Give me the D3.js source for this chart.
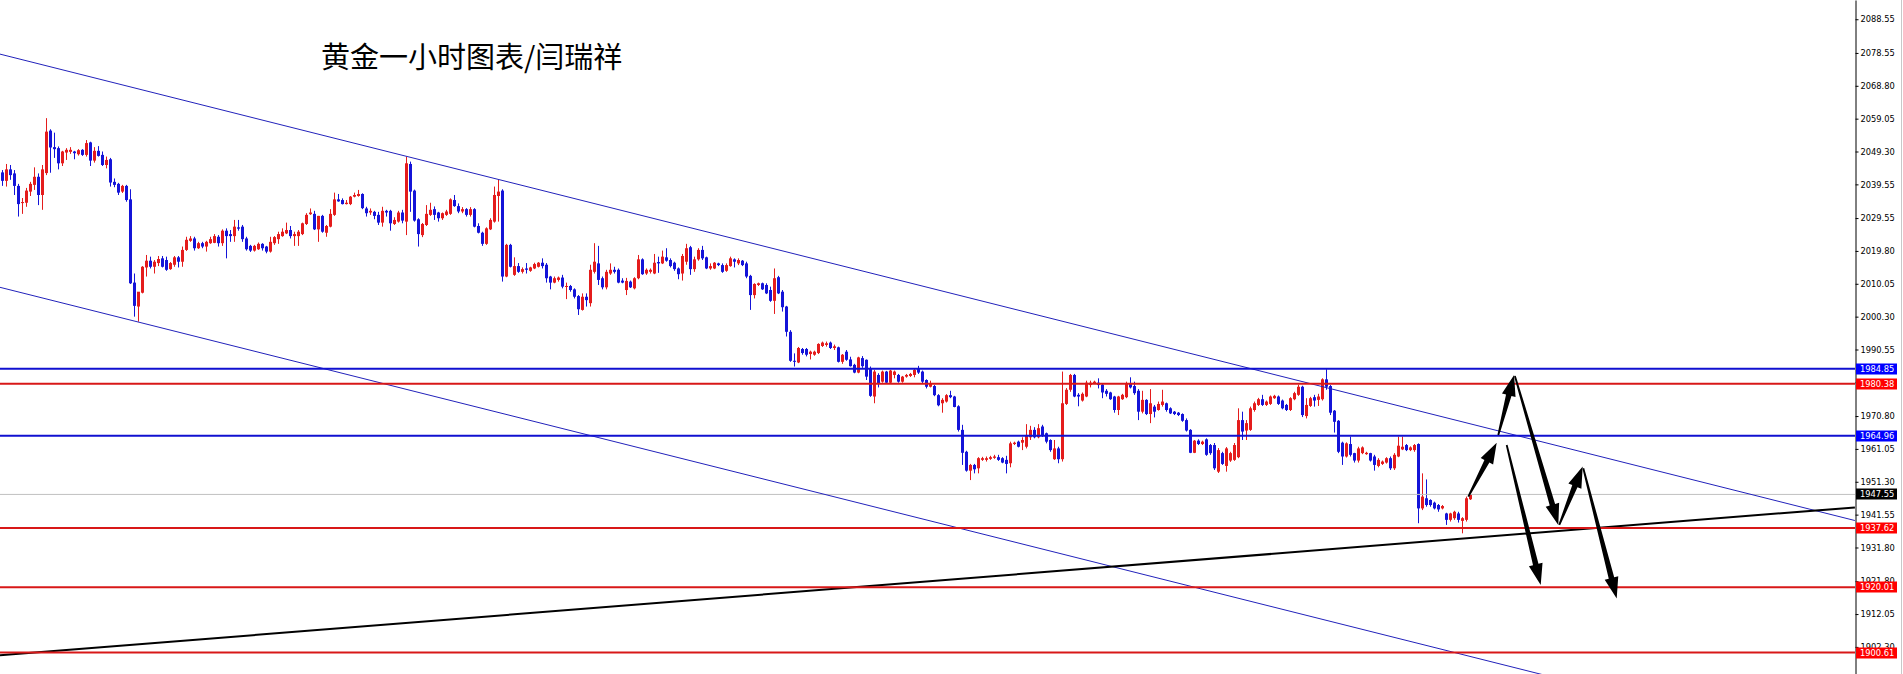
<!DOCTYPE html>
<html><head><meta charset="utf-8">
<script src="https://cdn.jsdelivr.net/npm/d3@7"></script>
<style>html,body{margin:0;padding:0;background:#fff;overflow:hidden}</style>
</head><body><svg id="c" width="1903" height="674"></svg>
<script>
// ---------- DATA (hourly gold candles) ----------
const opens = [
2043.1,2040.6,2044.0,2042.8,2039.1,2034.0,2034.1,2037.4,2039.4,2041.8,
2036.4,2042.9,2055.5,2050.6,2050.3,2045.8,2049.0,2049.2,2049.3,2048.5,
2049.8,2048.3,2052.0,2046.6,2049.5,2048.3,2045.3,2047.0,2040.3,2039.7,
2037.4,2039.1,2035.1,2010.4,2003.3,2007.4,2014.9,2016.9,2015.1,2016.2,
2017.6,2017.1,2014.4,2015.7,2017.9,2016.6,2020.1,2022.8,2023.5,2020.6,
2022.1,2021.1,2022.1,2022.2,2024.0,2022.1,2025.8,2024.8,2024.2,2026.8,
2027.0,2023.5,2021.3,2019.9,2020.3,2021.9,2021.1,2019.6,2022.1,2023.3,
2024.2,2025.0,2026.0,2024.2,2024.2,2024.8,2027.8,2030.7,2030.8,2026.2,
2030.2,2025.2,2027.0,2030.5,2035.1,2034.9,2033.7,2033.7,2035.9,2036.1,
2036.7,2032.4,2031.2,2031.4,2030.5,2028.2,2031.7,2031.7,2027.8,2028.5,
2031.2,2028.5,2045.6,2037.7,2029.2,2024.5,2027.5,2030.5,2032.2,2031.2,
2029.5,2030.5,2030.8,2034.9,2033.1,2031.5,2032.2,2030.5,2032.2,2027.2,
2025.2,2021.9,2026.2,2028.5,2036.1,2037.7,2012.2,2021.6,2012.7,2015.3,
2013.6,2014.6,2013.9,2014.6,2015.1,2016.3,2015.7,2012.2,2010.4,2011.2,
2011.9,2009.2,2009.4,2008.4,2006.4,2002.3,2006.2,2004.3,2013.6,2016.1,
2011.7,2009.0,2013.1,2014.2,2014.2,2011.0,2008.2,2010.7,2008.7,2011.7,
2017.3,2013.1,2013.6,2013.1,2016.5,2016.1,2017.9,2017.1,2016.3,2014.6,
2013.1,2016.6,2020.9,2014.4,2017.3,2020.1,2017.9,2014.6,2014.6,2016.1,
2015.6,2013.9,2015.3,2017.3,2016.1,2016.9,2016.1,2012.4,2006.7,2009.7,
2010.2,2009.7,2008.2,2005.0,2012.0,2007.7,2003.3,1995.8,1987.2,1986.7,
1990.7,1990.7,1989.2,1989.0,1989.5,1991.6,1991.9,1992.6,1991.0,1991.2,
1986.9,1989.9,1987.6,1986.0,1983.7,1988.0,1987.5,1985.0,1976.6,1983.0,
1981.0,1984.0,1980.7,1983.0,1983.0,1981.0,1982.5,1982.7,1983.0,1985.0,
1984.0,1981.5,1979.5,1979.7,1977.0,1974.6,1975.1,1977.0,1976.6,1973.7,
1966.7,1960.2,1954.6,1956.3,1955.3,1957.8,1957.8,1958.1,1958.4,1958.6,
1958.3,1957.8,1956.8,1962.5,1963.2,1962.9,1961.7,1964.5,1966.7,1964.5,
1967.7,1965.7,1963.7,1958.0,1961.2,1958.0,1974.4,1978.6,1983.0,1977.1,
1975.4,1976.6,1980.0,1980.5,1980.7,1980.1,1978.3,1977.8,1976.6,1972.6,
1975.8,1976.4,1980.5,1979.7,1978.3,1972.1,1975.6,1971.4,1973.6,1972.6,
1974.1,1974.6,1973.1,1972.1,1971.8,1971.4,1969.6,1966.7,1959.9,1963.5,
1962.5,1963.9,1962.2,1962.2,1954.3,1959.8,1956.0,1957.6,1957.8,1958.6,
1969.6,1966.5,1966.7,1972.6,1974.1,1975.8,1974.1,1974.4,1976.1,1976.6,
1975.4,1974.1,1972.6,1975.8,1977.1,1979.5,1970.8,1973.8,1976.4,1975.6,
1975.8,1981.7,1979.7,1972.4,1969.4,1962.9,1958.8,1962.5,1959.8,1957.6,
1959.8,1959.5,1959.8,1958.8,1956.0,1956.6,1957.0,1958.3,1955.3,1958.8,
1960.9,1962.2,1960.7,1960.7,1962.5,1943.4,1946.4,1945.9,1945.1,1944.4,
1943.4,1941.9,1940.0,1940.5,1941.9,1939.7,1940.0,1946.1];
const highs = [
2043.8,2045.6,2045.3,2043.8,2039.7,2035.5,2038.5,2040.3,2044.6,2042.8,
2045.3,2059.2,2055.9,2054.9,2050.8,2049.5,2050.3,2050.6,2049.5,2050.0,
2050.0,2052.7,2052.2,2050.6,2050.9,2049.3,2047.8,2047.4,2041.3,2040.0,
2039.4,2039.4,2038.1,2013.1,2003.8,2015.3,2018.6,2018.1,2017.1,2018.3,
2018.3,2018.1,2016.5,2018.3,2018.3,2021.1,2024.0,2024.2,2024.0,2022.5,
2022.5,2022.8,2024.0,2024.8,2024.5,2026.2,2026.5,2026.0,2029.0,2029.0,
2027.5,2024.0,2021.6,2021.6,2022.3,2022.1,2021.3,2024.0,2024.2,2025.5,
2026.5,2028.2,2027.2,2025.5,2026.0,2028.2,2031.0,2032.4,2031.7,2030.2,
2030.5,2027.5,2032.2,2037.1,2036.7,2035.4,2034.9,2036.1,2037.1,2037.9,
2036.9,2032.9,2032.4,2031.7,2031.4,2032.9,2032.0,2032.0,2029.8,2031.7,
2032.0,2047.8,2046.3,2038.0,2029.5,2028.1,2033.4,2034.1,2033.0,2031.4,
2031.2,2032.0,2035.4,2036.4,2033.9,2032.8,2032.5,2032.8,2032.5,2028.0,
2025.5,2026.8,2029.5,2038.9,2040.9,2038.1,2021.9,2021.9,2017.9,2016.2,
2014.9,2016.2,2015.1,2016.3,2016.5,2017.6,2016.2,2012.4,2012.2,2012.2,
2012.7,2010.4,2009.7,2008.7,2006.7,2007.2,2007.2,2015.7,2022.1,2021.3,
2012.2,2014.2,2016.1,2015.1,2014.6,2011.7,2011.8,2011.0,2012.0,2018.6,
2017.6,2014.6,2014.6,2018.9,2018.1,2019.9,2020.6,2017.6,2016.6,2014.9,
2018.9,2021.9,2021.3,2018.1,2020.6,2021.3,2018.1,2016.1,2016.5,2016.3,
2016.1,2016.1,2018.1,2017.6,2017.6,2017.1,2016.6,2012.7,2010.2,2010.4,
2010.4,2010.2,2009.2,2014.6,2012.4,2008.2,2003.5,1996.3,1989.4,1991.3,
1991.0,1991.0,1990.2,1990.2,1992.4,1992.9,1992.9,1992.9,1992.0,1991.4,
1989.2,1990.4,1988.4,1986.3,1988.4,1988.6,1987.6,1985.5,1984.5,1983.5,
1984.3,1984.2,1984.5,1984.3,1983.3,1982.7,1983.3,1983.6,1985.0,1985.7,
1984.3,1981.7,1981.3,1980.0,1977.3,1976.1,1977.3,1978.3,1976.8,1974.0,
1968.2,1960.5,1956.6,1956.6,1958.6,1958.7,1958.8,1959.0,1959.3,1959.3,
1958.6,1959.0,1963.2,1963.2,1963.5,1964.5,1968.4,1967.9,1967.5,1968.4,
1968.2,1965.9,1963.9,1963.7,1961.7,1984.0,1979.1,1983.3,1983.3,1977.6,
1977.8,1981.3,1981.3,1981.3,1982.0,1980.5,1978.8,1978.0,1976.8,1976.8,
1977.4,1981.0,1982.3,1981.0,1978.8,1978.3,1975.8,1978.8,1974.1,1975.1,
1978.6,1974.8,1973.4,1972.3,1972.0,1971.6,1970.1,1966.9,1963.7,1963.9,
1963.5,1964.2,1962.5,1962.8,1961.3,1960.2,1961.6,1960.2,1962.8,1973.1,
1972.1,1969.6,1973.6,1975.1,1976.2,1977.1,1975.4,1976.9,1977.1,1976.9,
1975.7,1974.4,1976.4,1978.0,1980.1,1979.8,1976.1,1976.5,1977.1,1977.4,
1982.0,1984.7,1980.0,1972.6,1969.6,1963.2,1963.0,1964.7,1959.9,1961.7,
1961.8,1960.2,1959.9,1959.3,1958.3,1957.6,1958.6,1958.8,1959.8,1964.7,
1964.7,1962.5,1961.8,1962.5,1962.7,1953.8,1952.0,1946.1,1945.4,1944.7,
1944.4,1942.1,1942.1,1942.7,1942.4,1940.8,1946.9,1947.8];
const lows = [
2039.1,2038.9,2040.9,2036.4,2030.0,2030.8,2032.9,2036.1,2037.9,2033.4,
2032.0,2042.3,2043.0,2047.4,2044.0,2045.0,2046.8,2048.6,2047.0,2048.1,
2048.0,2047.8,2045.0,2046.0,2047.8,2045.0,2044.3,2038.9,2038.7,2036.4,
2037.0,2034.4,2010.0,2000.3,1998.8,2007.2,2012.2,2014.6,2013.1,2015.3,
2014.9,2013.9,2014.2,2015.1,2014.9,2015.1,2019.8,2022.5,2019.9,2020.4,
2020.6,2019.6,2021.9,2022.1,2021.1,2021.3,2017.6,2022.5,2022.5,2025.8,
2022.5,2019.9,2019.5,2019.6,2020.1,2019.9,2019.1,2019.3,2021.6,2021.9,
2024.0,2024.8,2023.5,2021.3,2021.3,2024.5,2027.5,2030.5,2026.0,2022.5,
2025.2,2024.0,2026.8,2030.2,2034.4,2033.6,2033.6,2033.4,2035.7,2035.9,
2032.2,2030.0,2030.5,2029.2,2027.5,2027.0,2030.0,2025.8,2027.5,2028.2,
2028.0,2024.5,2031.4,2028.5,2021.1,2023.9,2027.2,2030.2,2029.0,2028.5,
2029.0,2030.2,2030.5,2032.9,2031.0,2031.0,2030.0,2030.0,2026.8,2025.0,
2021.3,2021.6,2026.0,2028.2,2028.5,2010.7,2012.0,2014.9,2012.4,2013.3,
2013.1,2013.1,2013.6,2014.4,2014.9,2014.6,2010.4,2008.4,2010.2,2010.7,
2008.7,2005.5,2007.7,2005.7,2000.8,2002.1,2003.3,2003.3,2013.1,2009.7,
2008.4,2008.4,2012.7,2013.1,2010.2,2010.2,2006.7,2008.8,2008.4,2011.4,
2012.7,2012.7,2013.1,2012.9,2013.3,2015.9,2016.6,2014.9,2013.9,2011.4,
2011.0,2015.7,2012.7,2013.6,2016.9,2017.1,2014.4,2014.2,2014.4,2015.3,
2013.3,2013.6,2015.1,2014.9,2015.6,2015.3,2011.7,2002.3,2005.7,2009.4,
2008.2,2007.0,2004.7,2001.1,2007.0,2001.8,1994.4,1986.9,1985.5,1986.5,
1989.0,1988.5,1987.6,1988.7,1989.2,1991.3,1991.4,1990.7,1990.4,1986.7,
1986.3,1987.2,1985.5,1983.5,1983.5,1985.1,1981.5,1976.5,1974.6,1979.3,
1980.7,1980.5,1980.5,1982.0,1980.7,1980.7,1982.2,1982.4,1982.3,1983.3,
1980.5,1979.0,1979.3,1976.7,1973.7,1971.8,1974.8,1976.1,1973.4,1966.2,
1956.3,1954.3,1951.8,1953.8,1953.8,1957.5,1957.3,1957.8,1958.1,1957.5,
1956.8,1953.8,1955.6,1962.2,1961.5,1960.7,1961.2,1963.7,1964.2,1964.2,
1964.6,1962.7,1960.2,1957.8,1956.8,1957.3,1974.1,1978.0,1976.4,1973.7,
1975.1,1976.4,1979.3,1980.3,1979.0,1976.1,1976.6,1975.6,1971.8,1971.1,
1975.6,1976.1,1979.0,1977.1,1969.6,1971.6,1971.1,1968.7,1970.4,1972.4,
1973.6,1972.1,1971.4,1971.1,1970.8,1969.1,1966.2,1959.8,1959.8,1962.2,
1962.2,1959.0,1959.3,1954.8,1953.9,1956.3,1954.3,1957.2,1957.5,1958.3,
1963.7,1963.7,1966.4,1972.1,1973.8,1973.8,1973.8,1974.1,1975.9,1974.1,
1972.8,1972.3,1972.3,1975.5,1976.8,1970.5,1970.1,1973.5,1973.6,1973.8,
1975.4,1978.6,1971.1,1965.9,1959.8,1956.3,1958.5,1958.8,1957.0,1957.0,
1959.5,1959.3,1957.3,1954.6,1955.6,1956.3,1956.7,1954.8,1954.8,1958.6,
1960.7,1960.4,1960.4,1960.2,1939.0,1942.9,1943.9,1943.9,1943.1,1942.4,
1943.1,1938.5,1939.5,1940.0,1939.2,1936.0,1939.5,1945.9];
const closes = [
2040.6,2044.0,2042.3,2039.1,2033.7,2034.3,2037.7,2039.7,2041.8,2036.4,
2044.0,2055.2,2050.5,2050.0,2045.8,2049.3,2049.8,2049.8,2048.8,2049.7,
2048.3,2051.8,2046.6,2049.5,2048.0,2045.3,2046.8,2040.1,2039.4,2037.1,
2039.1,2034.9,2010.2,2003.5,2007.7,2015.1,2016.9,2015.1,2016.6,2017.4,
2015.1,2014.2,2016.2,2017.9,2016.6,2020.1,2023.1,2023.5,2020.6,2022.1,
2021.1,2022.5,2023.3,2024.2,2022.1,2025.8,2024.2,2024.2,2027.0,2026.4,
2023.3,2020.3,2019.9,2021.3,2021.9,2020.6,2019.6,2022.5,2023.9,2024.8,
2025.5,2026.0,2024.2,2024.8,2025.5,2028.0,2030.5,2031.2,2026.2,2030.2,
2025.5,2027.2,2030.8,2035.1,2034.5,2033.7,2034.1,2035.9,2036.4,2036.7,
2032.5,2031.0,2031.7,2030.2,2028.2,2031.7,2031.2,2028.0,2029.0,2031.2,
2028.8,2045.8,2037.4,2028.8,2024.8,2027.8,2030.8,2032.0,2030.5,2029.5,
2031.0,2031.5,2035.1,2033.1,2031.5,2032.2,2030.5,2032.2,2027.0,2025.2,
2021.9,2026.5,2029.0,2036.4,2037.4,2012.2,2021.6,2015.1,2015.3,2013.6,
2014.4,2014.2,2014.9,2015.9,2016.3,2015.3,2011.7,2010.4,2011.7,2011.9,
2009.2,2009.4,2008.2,2006.2,2002.5,2006.2,2005.2,2014.2,2016.6,2011.2,
2009.0,2013.6,2014.2,2013.6,2010.4,2010.4,2010.9,2009.0,2011.7,2017.3,
2012.9,2014.2,2014.2,2016.3,2016.1,2018.1,2016.9,2015.3,2014.4,2012.9,
2018.3,2020.6,2014.4,2017.3,2020.1,2017.6,2014.6,2015.3,2016.3,2015.6,
2013.6,2015.6,2017.6,2016.6,2017.1,2015.6,2012.2,2006.7,2010.0,2010.2,
2008.4,2007.2,2005.0,2011.7,2007.2,2003.1,1995.8,1987.2,1986.9,1991.0,
1989.5,1989.0,1989.9,1989.9,1992.2,1992.6,1992.4,1991.0,1991.5,1986.9,
1989.0,1987.5,1985.6,1983.7,1988.2,1985.6,1982.5,1976.8,1984.0,1980.3,
1984.0,1980.7,1984.3,1984.0,1981.0,1982.5,1983.0,1983.3,1984.5,1983.7,
1981.0,1979.5,1980.5,1977.0,1974.0,1975.6,1977.0,1976.4,1973.5,1966.7,
1959.9,1954.6,1956.3,1955.0,1958.3,1958.3,1958.3,1958.6,1958.8,1957.8,
1957.0,1956.6,1962.7,1962.9,1961.7,1963.7,1965.2,1966.7,1964.5,1967.2,
1964.9,1963.2,1960.7,1961.2,1958.0,1974.6,1978.6,1983.0,1976.6,1976.6,
1977.4,1980.7,1980.7,1981.0,1980.0,1977.8,1977.4,1975.8,1972.6,1976.6,
1977.1,1980.5,1979.3,1977.6,1972.1,1975.6,1971.4,1974.6,1972.1,1974.4,
1975.1,1972.6,1971.6,1971.4,1971.1,1969.4,1966.5,1959.9,1963.5,1962.5,
1963.2,1959.3,1959.8,1955.3,1960.7,1956.6,1961.2,1959.8,1962.2,1969.6,
1966.2,1968.7,1973.1,1974.6,1975.8,1974.1,1975.1,1976.6,1976.8,1974.4,
1973.1,1972.6,1976.1,1977.6,1979.5,1971.1,1974.1,1976.1,1975.4,1976.6,
1981.7,1979.5,1971.8,1969.1,1960.2,1958.8,1962.7,1959.3,1957.6,1961.2,
1961.5,1959.9,1957.6,1956.3,1957.8,1957.3,1958.3,1955.3,1959.3,1962.0,
1961.7,1960.7,1961.5,1962.2,1943.4,1946.9,1944.4,1944.4,1943.4,1943.1,
1944.1,1940.0,1941.9,1942.4,1940.0,1940.5,1946.4,1947.55];

const axisTicks = [2088.55,2078.55,2068.80,2059.05,2049.30,2039.55,2029.55,2019.80,2010.05,2000.30,
                   1990.55,1980.80,1970.80,1961.05,1951.30,1941.55,1931.80,1921.80,1912.05,1902.30];
const bluePriceLevels = [1984.85, 1964.96];
const redPriceLevels = [1980.38, 1937.62, 1920.01, 1900.61];
const currentPrice = 1947.55;
// trend lines: [barIndex, price] endpoints
const channelUpper = [[-0.625, 2078.2], [463.1, 1939.8]];
const channelLower = [[-0.625, 2009.0], [463.1, 1870.8]];
const supportLine  = [[-0.625, 1899.8], [463.1, 1943.7]];
// projected path arrows: [barIndex, price] from -> to
const arrows = [
  [[366.45, 1946.9], [373.55, 1962.9]],
  [[373.95, 1965.2], [377.9, 1983.0]],
  [[378.1, 1982.7], [388.95, 1938.5]],
  [[389.2, 1938.5], [395.05, 1955.8]],
  [[395.2, 1955.3], [403.55, 1916.7]],
  [[376.05, 1962.2], [384.55, 1920.7]]
];
const titleText = "黄金一小时图表/闫瑞祥";

// ---------- DRAW ----------
const W = 1903, H = 674, plotRight = 1855;
const svg = d3.select("#c");
const x = d3.scaleLinear().domain([-0.625, 463.125]).range([0, plotRight]);
const y = d3.scaleLinear().domain([1894.26, 2094.26]).range([H, 0]);
const UP = "#e41c1c", DOWN = "#1414d8", LBLUE = "#1010d0", LRED = "#d81818";

const candles = opens.map((o, i) => ({i, o, h: highs[i], l: lows[i], c: closes[i]}));
const plot = svg.append("g");
plot.append("rect").attr("width", plotRight).attr("height", H).attr("fill", "#fff");

const cg = plot.append("g");
cg.selectAll("line").data(candles).join("line")
  .attr("x1", d => x(d.i)).attr("x2", d => x(d.i))
  .attr("y1", d => y(d.h)).attr("y2", d => y(d.l))
  .attr("stroke", d => d.c >= d.o ? UP : DOWN).attr("stroke-width", 1);
cg.selectAll("rect").data(candles).join("rect")
  .attr("x", d => x(d.i) - 1.5).attr("width", 3)
  .attr("y", d => y(Math.max(d.o, d.c)))
  .attr("height", d => Math.max(1, Math.abs(y(d.o) - y(d.c))))
  .attr("fill", d => d.c >= d.o ? UP : DOWN);

// current price line
plot.append("line").attr("x1", 0).attr("x2", plotRight)
  .attr("y1", y(currentPrice)).attr("y2", y(currentPrice))
  .attr("stroke", "#c0c0c0").attr("stroke-width", 1);

// trend lines
const lineGen = d3.line().x(d => x(d[0])).y(d => y(d[1]));
[channelUpper, channelLower].forEach(l => plot.append("path").attr("d", lineGen(l))
  .attr("stroke", "#2222bb").attr("stroke-width", 1).attr("fill", "none"));
plot.append("path").attr("d", lineGen(supportLine))
  .attr("stroke", "#000").attr("stroke-width", 2).attr("fill", "none");

// horizontal levels
bluePriceLevels.forEach(p => plot.append("line").attr("x1", 0).attr("x2", plotRight)
  .attr("y1", y(p)).attr("y2", y(p)).attr("stroke", LBLUE).attr("stroke-width", 2));
redPriceLevels.forEach(p => plot.append("line").attr("x1", 0).attr("x2", plotRight)
  .attr("y1", y(p)).attr("y2", y(p)).attr("stroke", LRED).attr("stroke-width", 2));

// arrows
function arrowPoly(a) {
  const x0 = x(a[0][0]), y0 = y(a[0][1]), x1 = x(a[1][0]), y1 = y(a[1][1]);
  const dx = x1 - x0, dy = y1 - y0, len = Math.hypot(dx, dy);
  const ux = dx / len, uy = dy / len, nx = -uy, ny = ux;
  const hl = 21, hw = 7, w0 = 0.9, w1 = 2.8;
  const bx = x1 - ux * hl, by = y1 - uy * hl;
  const pts = [[x0 + nx*w0, y0 + ny*w0], [bx + nx*w1, by + ny*w1], [bx + nx*hw, by + ny*hw], [x1, y1],
               [bx - nx*hw, by - ny*hw], [bx - nx*w1, by - ny*w1], [x0 - nx*w0, y0 - ny*w0]];
  return pts.map(p => p.join(",")).join(" ");
}
plot.selectAll("polygon.arrow").data(arrows).join("polygon").attr("class", "arrow")
  .attr("points", arrowPoly).attr("fill", "#000");

// title
svg.append("text").attr("x", 321).attr("y", 68).text(titleText)
  .attr("font-family", "'Noto Sans CJK SC', sans-serif").attr("font-size", 29).attr("fill", "#000");

// right axis
const ax = svg.append("g").attr("transform", `translate(${plotRight + 0.5},0)`)
  .call(d3.axisRight(y).tickValues(axisTicks).tickSize(3).tickSizeOuter(0).tickPadding(2).tickFormat(d3.format(".2f")));
ax.select(".domain").attr("stroke", "#000");
ax.selectAll(".tick line").attr("stroke", "#000");
ax.selectAll(".tick text").attr("font-family", "'DejaVu Sans', sans-serif").attr("font-size", 8.3).attr("fill", "#000");
ax.attr("font-size", null);

// price labels
const labels = [
  ...bluePriceLevels.map(p => ({p, col: "#0000ff"})),
  ...redPriceLevels.map(p => ({p, col: "#ff0000"})),
  {p: currentPrice, col: "#000"}
];
const lg = svg.append("g");
labels.forEach(d => {
  lg.append("rect").attr("x", plotRight + 1).attr("y", Math.round(y(d.p)) - 5.5).attr("width", 41).attr("height", 11).attr("fill", d.col);
  lg.append("text").attr("x", plotRight + 5).attr("y", Math.round(y(d.p))).attr("dy", "0.36em")
    .text(d3.format(".2f")(d.p)).attr("font-family", "'DejaVu Sans', sans-serif").attr("font-size", 8.3).attr("fill", "#fff");
});
svg.append("line").attr("x1", W - 1.5).attr("x2", W - 1.5).attr("y1", 0).attr("y2", H).attr("stroke", "#c8c8c8");
</script></body></html>
